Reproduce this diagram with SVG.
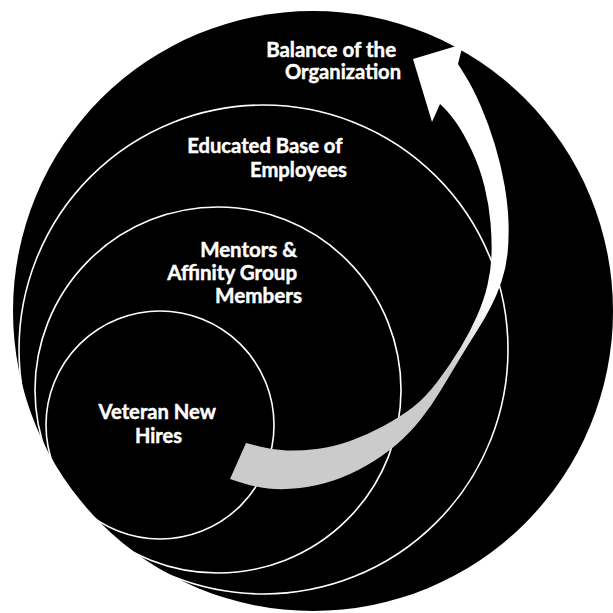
<svg xmlns="http://www.w3.org/2000/svg" width="613" height="613" viewBox="0 0 613 613">
  <defs>
    <style>
      .ring { fill: none; stroke: #ffffff; stroke-width: 1.6; }
      .lbl { font-family: Lato, "Open Sans", "Liberation Sans", sans-serif; font-weight: bold; font-size: 20px; fill: #ffffff; stroke: #ffffff; stroke-width: 0.45; }
    </style>
    <linearGradient id="arrowGrad" gradientUnits="userSpaceOnUse" x1="450" y1="372" x2="492" y2="300">
      <stop offset="0" stop-color="#cbcbcb"/>
      <stop offset="1" stop-color="#ffffff"/>
    </linearGradient>
  </defs>
  <rect width="613" height="613" fill="#ffffff"/>

  <g id="balance-of-organization">
    <circle cx="313" cy="311" r="300" fill="#000000"/>
    <text class="lbl" text-anchor="end">
      <tspan x="401" y="57" textLength="130" lengthAdjust="spacingAndGlyphs">Balance of the</tspan>
      <tspan x="401" y="79" textLength="116" lengthAdjust="spacingAndGlyphs">Organization</tspan>
    </text>
  </g>

  <g id="educated-base">
    <circle class="ring" cx="263.5" cy="349.5" r="244.5"/>
    <text class="lbl" text-anchor="end">
      <tspan x="347" y="153" textLength="155" lengthAdjust="spacingAndGlyphs">Educated Base of</tspan>
      <tspan x="347" y="177" textLength="97" lengthAdjust="spacingAndGlyphs">Employees</tspan>
    </text>
  </g>

  <g id="mentors-affinity">
    <circle class="ring" cx="218" cy="390" r="183"/>
    <text class="lbl" text-anchor="end">
      <tspan x="302" y="257" textLength="97" lengthAdjust="spacingAndGlyphs">Mentors &amp;</tspan>
      <tspan x="302" y="280" textLength="130" lengthAdjust="spacingAndGlyphs">Affinity Group</tspan>
      <tspan x="302" y="303" textLength="87" lengthAdjust="spacingAndGlyphs">Members</tspan>
    </text>
  </g>

  <g id="veteran-new-hires">
    <circle class="ring" cx="160" cy="425" r="114"/>
    <text class="lbl" text-anchor="middle">
      <tspan x="159.5" y="419" textLength="117" lengthAdjust="spacingAndGlyphs">Veteran New</tspan>
      <tspan x="158.5" y="443" textLength="47" lengthAdjust="spacingAndGlyphs">Hires</tspan>
    </text>
  </g>

  <g id="connectors">
    <path fill="url(#arrowGrad)" d="M246,443 L259.5,446.5 Q273,450 286.5,450.5 Q300,451 316.5,449 Q333,447 350,441 Q367,435 383.5,426 Q400,417 412.5,407.5 Q425,398 437.5,381.5 Q450,365 460,348.5 Q470,332 477,316 Q484,300 487.5,285 Q491,270 491.5,255 Q492,240 490.5,222.5 Q489,205 484.5,186.5 Q480,168 471.5,150 Q463,132 455,121 Q447,110 440,104 L432,122 L413,59 L463,44 L458,64 L465.5,76 Q473,88 481,106.5 Q489,125 495,145 Q501,165 504.5,185 Q508,205 508.5,222.5 Q509,240 507.5,254 Q506,268 501.5,281.5 Q497,295 490.5,307.5 Q484,320 476,332.5 Q468,345 459,360 Q450,375 441,390 Q432,405 421,419 Q410,433 396.5,444.5 Q383,456 366.5,465.5 Q350,475 333.5,480.5 Q317,486 300,488 Q283,490 268,488.5 Q253,487 230,479 Z"/>
  </g>
</svg>
